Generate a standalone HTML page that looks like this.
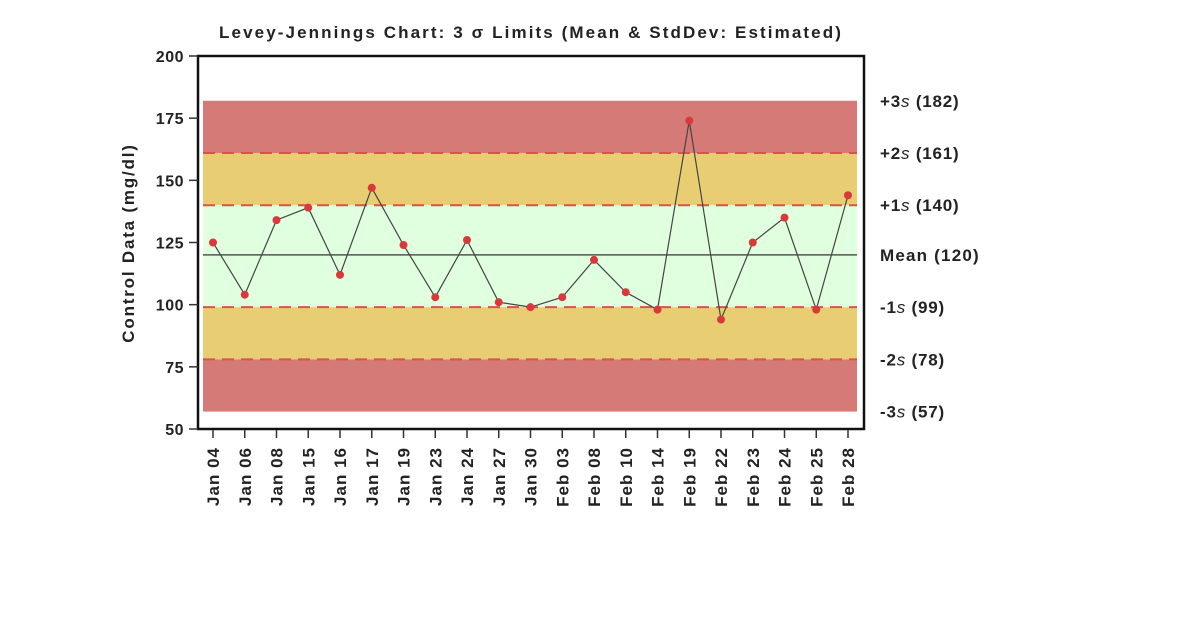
<!DOCTYPE html>
<html><head><meta charset="utf-8"><style>
body{margin:0;background:#fff;}
svg text{font-family:"Liberation Sans",Arial,sans-serif;font-weight:bold;fill:#222;}
</style></head><body>
<svg width="1179" height="634" viewBox="0 0 1179 634">
<g id="g"></g>
</svg>
<script>
const categories=["Jan 04","Jan 06","Jan 08","Jan 15","Jan 16","Jan 17","Jan 19","Jan 23","Jan 24","Jan 27","Jan 30","Feb 03","Feb 08","Feb 10","Feb 14","Feb 19","Feb 22","Feb 23","Feb 24","Feb 25","Feb 28"];
const values=[125,104,134,139,112,147,124,103,126,101,99,103,118,105,98,174,94,125,135,98,144];
const yTicks=[50,75,100,125,150,175,200];
const limitValues=[182,161,140,99,78,57];
const limitPrefix=["+3","+2","+1","-1","-2","-3"];
const meanValue=120;

const NS="http://www.w3.org/2000/svg";
const g=document.getElementById('g');
const X0=198,X1=864,Y0=429,Y1=56;
const y=v=>Y0-(v-50)*(Y0-Y1)/150;
const x=i=>213+i*(848-213)/(categories.length-1);
function el(t,a,p){const e=document.createElementNS(NS,t);for(const k in a)e.setAttribute(k,a[k]);(p||g).appendChild(e);return e;}
function tx(s,a){const e=el('text',a);e.textContent=s;return e;}

let t=tx("Levey-Jennings Chart:  3 σ Limits (Mean & StdDev: Estimated)",{x:531,y:38,'text-anchor':'middle','font-size':17,'letter-spacing':2.1});



const BL=203,BR=857;
const bandColors=["#d67a78","#e8cd72","#dfffdf","#e8cd72","#d67a78"];
for(let i=0;i<5;i++){
  const r=el('rect',{x:BL,y:y(limitValues[i]),width:BR-BL,height:y(limitValues[i+1])-y(limitValues[i]),fill:bandColors[i]});
  
  
}
for(let i=1;i<5;i++){
  const l=el('line',{x1:BL,x2:BR,y1:y(limitValues[i]),y2:y(limitValues[i]),stroke:'#d9534a','stroke-width':2,'stroke-dasharray':'12,7'});
  
  
}
const ml=el('line',{x1:BL,x2:BR,y1:y(meanValue),y2:y(meanValue),stroke:'#555','stroke-width':1.5});



limitValues.forEach((v,i)=>{
  const e=el('text',{x:880,y:y(v)+6,'font-size':17,'letter-spacing':0.8});
  
  
  e.appendChild(document.createTextNode(limitPrefix[i]));
  const s=el('tspan',{'font-style':'italic','font-weight':'normal'},e);s.textContent='s';
  e.appendChild(document.createTextNode(' ('+v+')'));
});
const mlab=tx("Mean (120)",{x:880,y:y(meanValue)+6,'font-size':17,'letter-spacing':1.2});



const fr=el('rect',{x:X0,y:Y1,width:X1-X0,height:Y0-Y1,fill:'none',stroke:'#111','stroke-width':2.5});



yTicks.forEach(v=>{
  el('line',{x1:189,x2:X0,y1:y(v),y2:y(v),stroke:'#333','stroke-width':1.5});
  const e=tx(String(v),{x:184,y:y(v)+6,'text-anchor':'end','font-size':16,'letter-spacing':0.5});
  
  
});
const yt=tx("Control Data (mg/dl)",{x:0,y:0,'text-anchor':'middle','font-size':17,'letter-spacing':1.8,transform:'translate(134,243) rotate(-90)'});



categories.forEach((c,i)=>{
  el('line',{x1:x(i),x2:x(i),y1:Y0+1,y2:Y0+9,stroke:'#333','stroke-width':1.5});
  const e=tx(c,{x:0,y:0,'text-anchor':'end','font-size':17,'letter-spacing':1,transform:`translate(${x(i)+6},${Y0+18}) rotate(-90)`});
  
  
});

const pl=el('polyline',{points:values.map((v,i)=>x(i)+','+y(v)).join(' '),fill:'none',stroke:'#444','stroke-width':1.2});


values.forEach((v,i)=>{
  const c=el('circle',{cx:x(i),cy:y(v),r:4,fill:'#d9393a'});
  
  
});
</script>
</body></html>
